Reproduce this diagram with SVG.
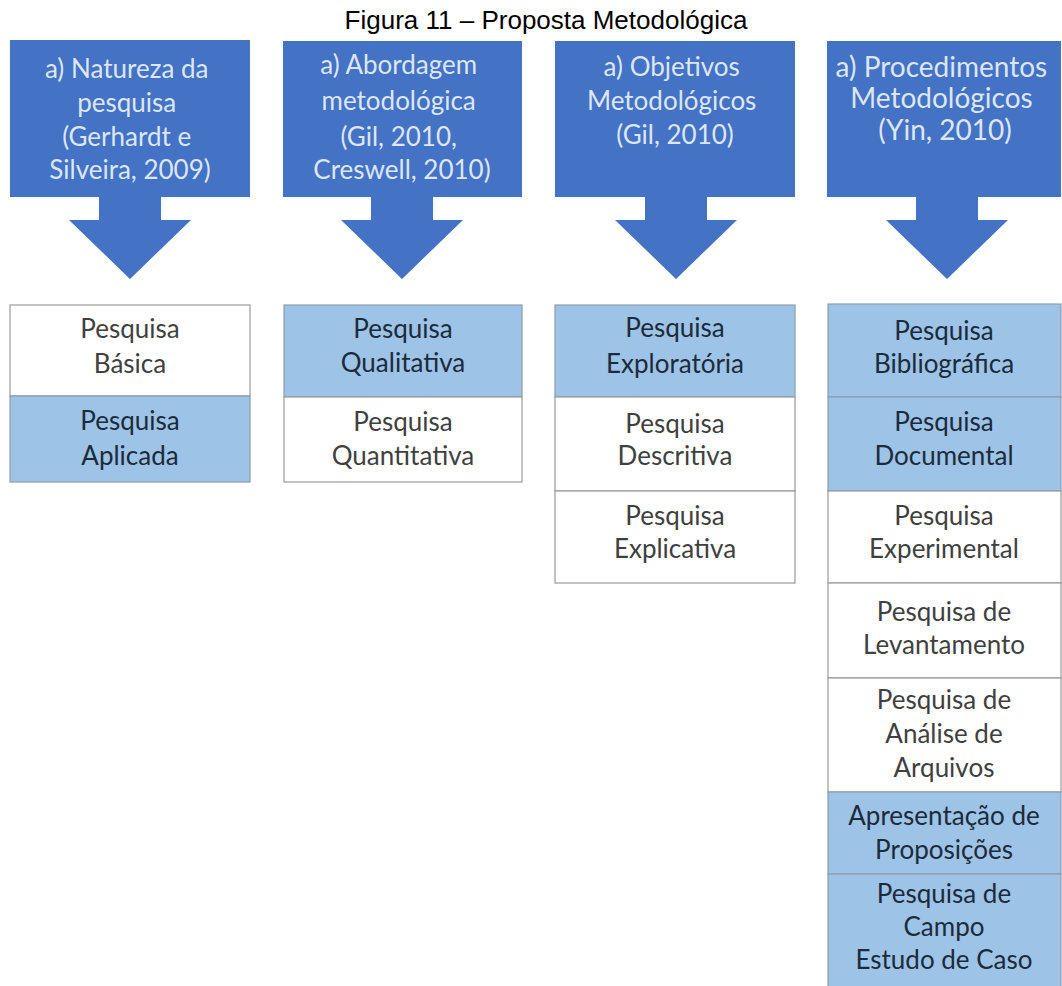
<svg xmlns="http://www.w3.org/2000/svg" width="1062" height="986" viewBox="0 0 1062 986">
  <style>
    .title { font-family: "Liberation Sans", Arial, sans-serif; font-size: 26px; fill: #000; }
    .callout { fill: #4472C4; }
    .head { font-family: Lato, "Open Sans", sans-serif; font-size: 26px; fill: #DCE6F4; text-anchor: middle; }
    .head-wide { font-size: 28px; }
    .cell-w { fill: #FFFFFF; stroke: #9A9A9A; stroke-width: 1.2; }
    .cell-b { fill: #9DC3E6; stroke: #8E9CAE; stroke-width: 1.2; }
    .tw { font-family: Lato, "Open Sans", sans-serif; font-size: 26px; fill: #3F3F3F; text-anchor: middle; }
    .tb { font-family: Lato, "Open Sans", sans-serif; font-size: 26px; fill: #1C2B3C; text-anchor: middle; }
  </style>
  <defs>
    <!-- down-arrow callout: stem and triangular head under a header box, centred on x=0 -->
    <path id="arrowTail" d="M -31 196 L -31 220 L -61 220 L 0 279 L 61 220 L 31 220 L 31 196 Z"/>
  </defs>

  <rect width="1062" height="986" fill="#FFFFFF"/>

  <text class="title" x="546" y="29" text-anchor="middle">Figura 11 – Proposta Metodológica</text>

  <!-- Column headers -->
  <g id="head-natureza">
    <rect class="callout" x="10" y="40" width="240" height="157"/>
    <use href="#arrowTail" x="130" class="callout"/>
    <text class="head">
      <tspan x="130" y="78">a) Natureza da</tspan>
      <tspan x="130" y="112">pesquisa</tspan>
      <tspan x="130" y="146">(Gerhardt e</tspan>
      <tspan x="130" y="179">Silveira, 2009)</tspan>
    </text>
  </g>
  <g id="head-abordagem">
    <rect class="callout" x="283" y="41" width="239" height="156"/>
    <use href="#arrowTail" x="402" class="callout"/>
    <text class="head">
      <tspan x="402" y="74">a) Abordagem</tspan>
      <tspan x="402" y="110">metodológica</tspan>
      <tspan x="402" y="146">(Gil, 2010,</tspan>
      <tspan x="402" y="179">Creswell, 2010)</tspan>
    </text>
  </g>
  <g id="head-objetivos">
    <rect class="callout" x="555" y="41" width="240" height="156"/>
    <use href="#arrowTail" x="676" class="callout"/>
    <text class="head">
      <tspan x="675" y="76">a) Objetivos</tspan>
      <tspan x="675" y="110">Metodológicos</tspan>
      <tspan x="675" y="144">(Gil, 2010)</tspan>
    </text>
  </g>
  <g id="head-procedimentos">
    <rect class="callout" x="827" y="41" width="234" height="156"/>
    <use href="#arrowTail" x="947" class="callout"/>
    <text class="head head-wide">
      <tspan x="945" y="77">a) Procedimentos</tspan>
      <tspan x="945" y="108">Metodológicos</tspan>
      <tspan x="945" y="140">(Yin, 2010)</tspan>
    </text>
  </g>

  <!-- Column 1 -->
  <g id="basica">
    <rect class="cell-w" x="10" y="305" width="240" height="91"/>
    <text class="tw"><tspan x="130" y="338">Pesquisa</tspan><tspan x="130" y="373">Básica</tspan></text>
  </g>
  <g id="aplicada">
    <rect class="cell-b" x="10" y="396" width="240" height="86"/>
    <text class="tb"><tspan x="130" y="430">Pesquisa</tspan><tspan x="130" y="465">Aplicada</tspan></text>
  </g>

  <!-- Column 2 -->
  <g id="qualitativa">
    <rect class="cell-b" x="284" y="305" width="238" height="92"/>
    <text class="tb"><tspan x="403" y="338">Pesquisa</tspan><tspan x="403" y="372">Qualitativa</tspan></text>
  </g>
  <g id="quantitativa">
    <rect class="cell-w" x="284" y="397" width="238" height="85"/>
    <text class="tw"><tspan x="403" y="431">Pesquisa</tspan><tspan x="403" y="465">Quantitativa</tspan></text>
  </g>

  <!-- Column 3 -->
  <g id="exploratoria">
    <rect class="cell-b" x="555" y="305" width="240" height="92"/>
    <text class="tb"><tspan x="675" y="337">Pesquisa</tspan><tspan x="675" y="373">Exploratória</tspan></text>
  </g>
  <g id="descritiva">
    <rect class="cell-w" x="555" y="397" width="240" height="94"/>
    <text class="tw"><tspan x="675" y="433">Pesquisa</tspan><tspan x="675" y="465">Descritiva</tspan></text>
  </g>
  <g id="explicativa">
    <rect class="cell-w" x="555" y="491" width="240" height="92"/>
    <text class="tw"><tspan x="675" y="525">Pesquisa</tspan><tspan x="675" y="558">Explicativa</tspan></text>
  </g>

  <!-- Column 4 -->
  <g id="bibliografica">
    <rect class="cell-b" x="828" y="304" width="233" height="93"/>
    <text class="tb"><tspan x="944" y="340">Pesquisa</tspan><tspan x="944" y="373">Bibliográfica</tspan></text>
  </g>
  <g id="documental">
    <rect class="cell-b" x="828" y="397" width="233" height="94"/>
    <text class="tb"><tspan x="944" y="431">Pesquisa</tspan><tspan x="944" y="465">Documental</tspan></text>
  </g>
  <g id="experimental">
    <rect class="cell-w" x="828" y="491" width="233" height="92"/>
    <text class="tw"><tspan x="944" y="525">Pesquisa</tspan><tspan x="944" y="558">Experimental</tspan></text>
  </g>
  <g id="levantamento">
    <rect class="cell-w" x="828" y="583" width="233" height="95"/>
    <text class="tw"><tspan x="944" y="621">Pesquisa de</tspan><tspan x="944" y="654">Levantamento</tspan></text>
  </g>
  <g id="arquivos">
    <rect class="cell-w" x="828" y="678" width="233" height="114"/>
    <text class="tw"><tspan x="944" y="709">Pesquisa de</tspan><tspan x="944" y="743">Análise de</tspan><tspan x="944" y="777">Arquivos</tspan></text>
  </g>
  <g id="proposicoes">
    <rect class="cell-b" x="828" y="792" width="233" height="82"/>
    <text class="tb"><tspan x="944" y="825">Apresentação de</tspan><tspan x="944" y="859">Proposições</tspan></text>
  </g>
  <g id="campo">
    <rect class="cell-b" x="828" y="874" width="233" height="120"/>
    <text class="tb"><tspan x="944" y="903">Pesquisa de</tspan><tspan x="944" y="936">Campo</tspan><tspan x="944" y="969">Estudo de Caso</tspan></text>
  </g>

  <!-- the header arrows are the only connectors; no separate links -->
  <g id="connectors"/>
</svg>
